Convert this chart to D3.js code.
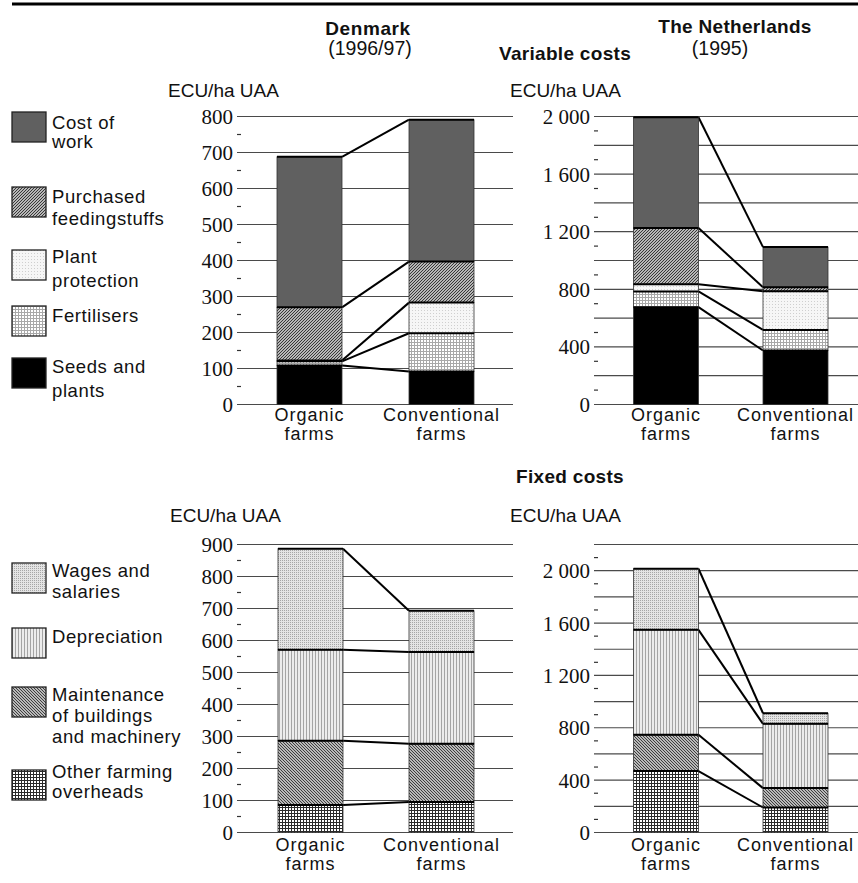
<!DOCTYPE html>
<html>
<head>
<meta charset="utf-8">
<script src="https://cdn.jsdelivr.net/npm/d3@7"></script>
<style>
  html, body { margin: 0; padding: 0; background: #fff; }
  svg { display: block; }
  svg text.tick-serif { font-family: "Liberation Serif", "DejaVu Serif", "Times New Roman", Times, serif; }
  svg text.lab-sans { font-family: "Liberation Sans", Arial, Helvetica, sans-serif; }
</style>
</head>
<body>
<svg id="chart" width="858" height="883"></svg>
<script>
// ---------------- DATA ----------------
const farmTypes = ["Organic farms", "Conventional farms"];

// Variable costs (bottom to top of stack)
const variableSeries = ["Seeds and plants", "Fertilisers", "Plant protection", "Purchased feedingstuffs", "Cost of work"];
const dkVariableOrganic      = [108, 12, 2, 148, 418];
const dkVariableConventional = [92, 106, 85, 114, 394];
const nlVariableOrganic      = [676, 109, 50, 390, 770];
const nlVariableConventional = [375, 143, 269, 28, 278];

// Fixed costs (bottom to top of stack)
const fixedSeries = ["Other farming overheads", "Maintenance of buildings and machinery", "Depreciation", "Wages and salaries"];
const dkFixedOrganic      = [86, 201, 284, 316];
const dkFixedConventional = [95, 182, 287, 129];
const nlFixedOrganic      = [469, 277, 802, 467];
const nlFixedConventional = [191, 148, 491, 81];

// Tick values
const dkVariableTicks = [0, 100, 200, 300, 400, 500, 600, 700, 800];
const nlVariableTicks = [0, 400, 800, 1200, 1600, 2000];
const dkFixedTicks    = [0, 100, 200, 300, 400, 500, 600, 700, 800, 900];
const nlFixedTicks    = [0, 400, 800, 1200, 1600, 2000];

// Legend labels (lines)
const variableLegend = [
  ["Cost of", "work"],
  ["Purchased", "feedingstuffs"],
  ["Plant", "protection"],
  ["Fertilisers"],
  ["Seeds and", "plants"]
];
const fixedLegend = [
  ["Wages and", "salaries"],
  ["Depreciation"],
  ["Maintenance", "of buildings", "and machinery"],
  ["Other farming", "overheads"]
];

// ---------------- STYLE / LAYOUT ----------------
const svg = d3.select("#chart");
const defs = svg.append("defs");

function pat(id, w, h, bg, build) {
  const p = defs.append("pattern").attr("id", id)
    .attr("patternUnits", "userSpaceOnUse").attr("width", w).attr("height", h);
  p.append("rect").attr("width", w).attr("height", h).attr("fill", bg);
  build(p);
}
pat("p-feed", 3, 3, "#eeeeee", p => p.append("path")
  .attr("d", "M0,3 L3,0 M-1,1 L1,-1 M2,4 L4,2").attr("stroke", "#2e2e2e").attr("stroke-width", 1.1));
pat("p-plant", 3, 3, "#f6f6f6", p => p.append("rect")
  .attr("x", 1).attr("y", 1).attr("width", 1).attr("height", 1).attr("fill", "#cfcfcf"));
pat("p-fert", 3, 3, "#ffffff", p => {
  p.append("rect").attr("x", 0).attr("y", 0).attr("width", 1).attr("height", 3).attr("fill", "#a8a8a8");
  p.append("rect").attr("x", 0).attr("y", 0).attr("width", 3).attr("height", 1).attr("fill", "#a8a8a8");
});
pat("p-wages", 2, 2, "#e4e4e4", p => p.append("rect")
  .attr("x", 0).attr("y", 0).attr("width", 1).attr("height", 1).attr("fill", "#a6a6a6"));
pat("p-dep", 3, 3, "#ececec", p => p.append("rect")
  .attr("x", 0).attr("y", 0).attr("width", 1).attr("height", 3).attr("fill", "#a4a4a4"));
pat("p-maint", 3, 3, "#eeeeee", p => p.append("path")
  .attr("d", "M0,0 L3,3 M2,-1 L4,1 M-1,2 L1,4").attr("stroke", "#353535").attr("stroke-width", 1.1));
pat("p-other", 3, 3, "#ffffff", p => {
  p.append("rect").attr("x", 0).attr("y", 0).attr("width", 1).attr("height", 3).attr("fill", "#2a2a2a");
  p.append("rect").attr("x", 0).attr("y", 0).attr("width", 3).attr("height", 1).attr("fill", "#2a2a2a");
});

const variableFill = d3.scaleOrdinal().domain(variableSeries)
  .range(["#000000", "url(#p-fert)", "url(#p-plant)", "url(#p-feed)", "#606060"]);
const fixedFill = d3.scaleOrdinal().domain(fixedSeries)
  .range(["url(#p-other)", "url(#p-maint)", "url(#p-dep)", "url(#p-wages)"]);

const fmt = d3.formatLocale({ decimal: ".", thousands: " ", grouping: [3], currency: ["", ""] }).format(",d");

const barW = 65;

const panels = [
  { series: variableSeries, org: dkVariableOrganic, conv: dkVariableConventional, fill: variableFill,
    max: 800, ticks: dkVariableTicks, gridStep: 100, minorStart: 50, minorStep: 100, axisX: 237, gridEnd: 513, y0: 404.5, y1: 116.5, cx: [309.5, 441.5], labY: [421, 440] },
  { series: variableSeries, org: nlVariableOrganic, conv: nlVariableConventional, fill: variableFill,
    max: 2000, ticks: nlVariableTicks, gridStep: 200, minorStart: 100, minorStep: 200, axisX: 594, gridEnd: 858, y0: 404.5, y1: 116.5, cx: [666, 795.5], labY: [421, 440] },
  { series: fixedSeries, org: dkFixedOrganic, conv: dkFixedConventional, fill: fixedFill,
    max: 900, ticks: dkFixedTicks, gridStep: 100, minorStart: 50, minorStep: 100, axisX: 237, gridEnd: 513, y0: 832.5, y1: 544.5, cx: [310.5, 441.5], labY: [851, 870] },
  { series: fixedSeries, org: nlFixedOrganic, conv: nlFixedConventional, fill: fixedFill,
    max: 2200, ticks: nlFixedTicks, gridStep: 200, minorStart: 100, minorStep: 200, axisX: 594, gridEnd: 858, y0: 832.5, y1: 544.5, cx: [666, 795.5], labY: [851, 870] }
];

panels.forEach(P => {
  const g = svg.append("g");
  const y = d3.scaleLinear().domain([0, P.max]).range([P.y0, P.y1]);
  const x = d3.scalePoint().domain(farmTypes).range(P.cx);

  // grid lines
  const grid = d3.range(0, P.max + 1, P.gridStep);
  g.selectAll(".grid").data(grid).join("line")
    .attr("x1", P.axisX).attr("x2", P.gridEnd)
    .attr("y1", d => y(d)).attr("y2", d => y(d))
    .attr("stroke", "#4a4a4a").attr("stroke-width", 1.2);
  // minor dashes
  const minor = d3.range(P.minorStart, P.max, P.minorStep);
  g.selectAll(".minor").data(minor).join("line")
    .attr("x1", P.axisX).attr("x2", P.axisX + 4)
    .attr("y1", d => y(d)).attr("y2", d => y(d))
    .attr("stroke", "#333").attr("stroke-width", 1.2);
  // tick labels (serif)
  g.selectAll(".tl").data(P.ticks).join("text")
    .attr("class", "tick-serif")
    .attr("x", P.axisX - 4).attr("y", d => y(d)).attr("dy", "0.36em")
    .attr("text-anchor", "end").attr("font-size", 21).attr("fill", "#111")
    .text(d => fmt(d));

  // stack
  const rows = farmTypes.map((f, i) => {
    const vals = i === 0 ? P.org : P.conv;
    const o = { farm: f };
    P.series.forEach((s, j) => o[s] = vals[j]);
    return o;
  });
  const stacked = d3.stack().keys(P.series)(rows);

  // connecting lines (segment tops)
  const xl = d => x(d) - barW / 2, xr = d => x(d) + barW / 2;
  g.selectAll(".conn").data(stacked).join("line")
    .attr("x1", xr(farmTypes[0])).attr("y1", s => y(s[0][1]))
    .attr("x2", xl(farmTypes[1])).attr("y2", s => y(s[1][1]))
    .attr("stroke", "#000").attr("stroke-width", 2);

  // bars
  stacked.forEach(s => {
    g.selectAll(null).data(s).join("rect")
      .attr("x", d => xl(d.data.farm)).attr("width", barW)
      .attr("y", d => y(d[1])).attr("height", d => y(d[0]) - y(d[1]))
      .attr("fill", P.fill(s.key))
      .attr("stroke", "#333").attr("stroke-width", 0.8);
  });
  // segment top boundaries
  stacked.forEach(s => {
    g.selectAll(null).data(s).join("line")
      .attr("x1", d => xl(d.data.farm)).attr("x2", d => xr(d.data.farm))
      .attr("y1", d => y(d[1])).attr("y2", d => y(d[1]))
      .attr("stroke", "#000").attr("stroke-width", 2);
  });

  // category labels
  farmTypes.forEach(f => {
    const parts = f.split(" ");
    parts.forEach((t, k) => {
      g.append("text").attr("class", "lab-sans")
        .attr("x", x(f)).attr("y", P.labY[k])
        .attr("text-anchor", "middle").attr("font-size", 18).attr("fill", "#111")
        .attr("letter-spacing", 1)
        .text(t);
    });
  });
});

// ---------------- TITLES ----------------
svg.append("line").attr("x1", 12).attr("x2", 858).attr("y1", 4).attr("y2", 4)
  .attr("stroke", "#000").attr("stroke-width", 3);

function txt(x, yy, t, opts = {}) {
  return svg.append("text").attr("class", "lab-sans")
    .attr("x", x).attr("y", yy)
    .attr("text-anchor", opts.anchor || "middle")
    .attr("font-size", opts.size || 19)
    .attr("font-weight", opts.bold ? "bold" : "normal")
    .attr("letter-spacing", opts.ls || 0)
    .attr("fill", "#111")
    .text(t);
}
txt(368, 35, "Denmark", { bold: true, ls: 0.6 });
txt(370, 55, "(1996/97)", { size: 19.5 });
txt(735, 33, "The Netherlands", { bold: true, ls: 0.3 });
txt(720, 55, "(1995)", { size: 19.5 });
txt(565, 60, "Variable costs", { bold: true, ls: 0.3 });
txt(570, 483, "Fixed costs", { bold: true, ls: 0.3 });
txt(168, 97, "ECU/ha UAA", { anchor: "start", size: 19 });
txt(510, 97, "ECU/ha UAA", { anchor: "start", size: 19 });
txt(170, 522, "ECU/ha UAA", { anchor: "start", size: 19 });
txt(510, 522, "ECU/ha UAA", { anchor: "start", size: 19 });

// ---------------- LEGENDS ----------------
const varLegendLayout = [
  { box: 112, base: [129, 148] },
  { box: 187, base: [203, 225] },
  { box: 250, base: [263, 287] },
  { box: 306, base: [322] },
  { box: 358, base: [373, 397] }
];
const fixLegendLayout = [
  { box: 563, base: [577, 598] },
  { box: 628, base: [643] },
  { box: 687, base: [701, 722, 743] },
  { box: 770, base: [778, 798] }
];
function legend(series, labels, layout, fill) {
  const order = series.slice().reverse();
  order.forEach((s, i) => {
    const L = layout[i];
    svg.append("rect").attr("x", 12).attr("y", L.box).attr("width", 34).attr("height", 30)
      .attr("fill", fill(s)).attr("stroke", "#222").attr("stroke-width", 1.3);
    labels[i].forEach((t, k) => {
      svg.append("text").attr("class", "lab-sans")
        .attr("x", 52).attr("y", L.base[k])
        .attr("font-size", 18.5).attr("letter-spacing", 0.6).attr("fill", "#111")
        .text(t);
    });
  });
}
legend(variableSeries, variableLegend, varLegendLayout, variableFill);
legend(fixedSeries, fixedLegend, fixLegendLayout, fixedFill);
</script>
</body>
</html>
